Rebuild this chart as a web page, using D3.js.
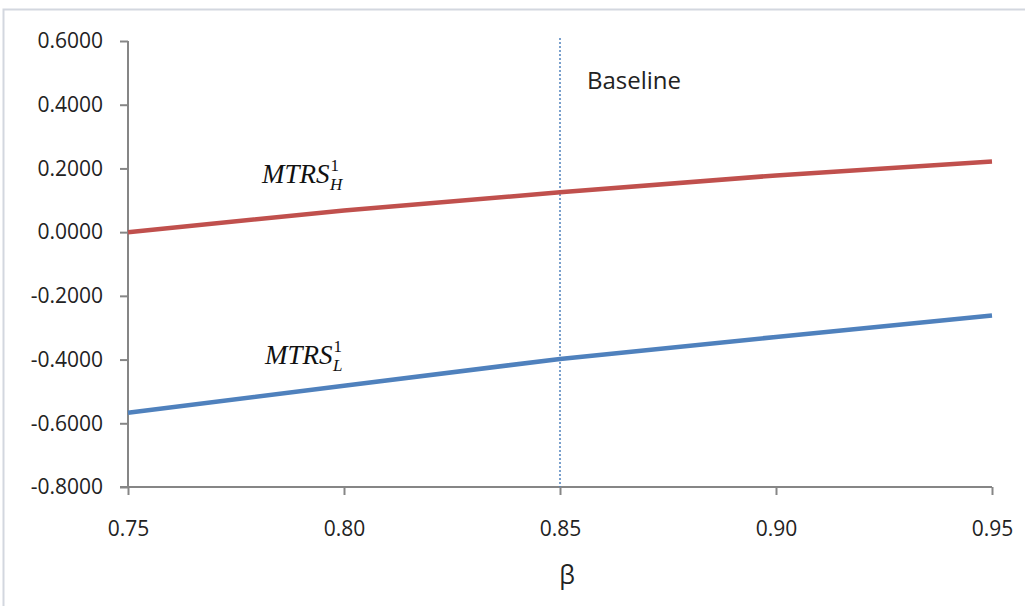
<!DOCTYPE html>
<html><head><meta charset="utf-8">
<script src="https://cdn.jsdelivr.net/npm/d3@7"></script>
<style>body{margin:0;background:#fff}svg{display:block}</style>
</head><body>
<svg id="c" width="1025" height="606"></svg>
<script>
const betas = [0.75, 0.80, 0.85, 0.90, 0.95];
const mtrsH = [0.000, 0.068, 0.125, 0.178, 0.222];
const mtrsL = [-0.567, -0.482, -0.398, -0.329, -0.262];
const yTicks = [0.6, 0.4, 0.2, 0.0, -0.2, -0.4, -0.6, -0.8];
const xTicks = [0.75, 0.80, 0.85, 0.90, 0.95];
const baseline = 0.85;

const svg = d3.select("#c");
svg.append("rect").attr("x",3.5).attr("y",9.5).attr("width",1030).attr("height",610)
  .attr("fill","#fff").attr("stroke","#d3d7df").attr("stroke-width",2);

const x = d3.scaleLinear().domain([0.75,0.95]).range([128,992]);
const y = d3.scaleLinear().domain([-0.8,0.6]).range([487,41]);
const font = "'Open Sans', 'Noto Sans', sans-serif";
const fmtY = v => d3.format(".4f")(v).replace("−","-");

const ya = svg.append("g").attr("transform","translate(128,0)")
  .call(d3.axisLeft(y).tickValues(yTicks).tickFormat(fmtY).tickSize(8).tickPadding(17).tickSizeOuter(0));
const xa = svg.append("g").attr("transform","translate(0,487)")
  .call(d3.axisBottom(x).tickValues(xTicks).tickFormat(d3.format(".2f")).tickSize(8).tickPadding(26).tickSizeOuter(0));
[ya, xa].forEach(g=>{
  g.selectAll("path,line").attr("stroke","#868686").attr("stroke-width",2);
  g.selectAll("text").attr("font-family",font).attr("font-size",21).attr("fill","#222");
});
ya.select(".domain").attr("d","M0,41V487");
xa.select(".domain").attr("d","M120,0H992");

svg.append("line").attr("x1",x(baseline)).attr("x2",x(baseline)).attr("y1",38).attr("y2",487)
  .attr("stroke","#4f81bd").attr("stroke-width",1.5).attr("stroke-dasharray","2,2");

const line = d3.line().x((d,i)=>x(betas[i])).y(d=>y(d));
svg.append("path").attr("d",line(mtrsH)).attr("fill","none").attr("stroke","#c0504d").attr("stroke-width",4.5);
svg.append("path").attr("d",line(mtrsL)).attr("fill","none").attr("stroke","#4f81bd").attr("stroke-width",4.5);

svg.append("text").attr("x",587).attr("y",89).attr("font-family",font).attr("font-size",24).attr("fill","#222").text("Baseline");
svg.append("text").attr("x",567).attr("y",584).attr("text-anchor","middle").attr("font-family",font).attr("font-size",25).attr("fill","#222").text("β");

function mtrs(xp, yp, sub){
  const t = svg.append("text").attr("x",xp).attr("y",yp).attr("font-family","'Liberation Serif', 'DejaVu Serif', serif").attr("font-size",27).attr("fill","#111");
  t.append("tspan").attr("font-style","italic").text("MTRS");
  t.append("tspan").attr("font-size",17).attr("dy",-12).attr("dx",1).text("1");
  t.append("tspan").attr("font-size",17).attr("font-style","italic").attr("dy",19).attr("dx",-9).text(sub);
}
mtrs(262, 183, "H");
mtrs(265, 364, "L");
</script>
</body></html>
